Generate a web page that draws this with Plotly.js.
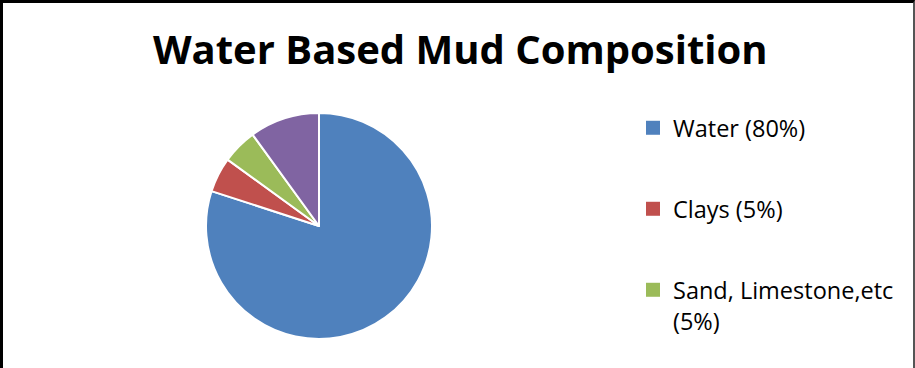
<!DOCTYPE html>
<html>
<head>
<meta charset="utf-8">
<script src="https://cdn.plot.ly/plotly-3.0.1.min.js"></script>
<style>
  html, body { margin: 0; padding: 0; background: #fff; }
  #wrap { position: relative; width: 915px; height: 368px; overflow: hidden; }
  #chart { width: 915px; height: 368px; }
  #frame { position: absolute; left: 0; top: 0; width: 910px; height: 400px;
           border-left: 3px solid #000; border-top: 3px solid #000; border-right: 2px solid #555;
           pointer-events: none; }
</style>
</head>
<body>
<div id="wrap">
  <div id="chart"></div>
  <div id="frame"></div>
</div>
<script>
const chartTitle = "Water Based Mud Composition";
const categories = ["Water", "Clays", "Sand, Limestone,etc", "Chemicals"];
const percentages = [80, 5, 5, 10];
const legendLabels = ["Water (80%)", "Clays (5%)", "Sand, Limestone,etc<br>(5%)", "Chemicals (10%)"];
const sliceColors = ["#4F81BD", "#C0504D", "#9BBB59", "#8064A2"];
// entries visible in the (cropped) legend of the reference
const shownInLegend = [true, true, true, false];

const W = 915, H = 368;
const LEG_FONT = 23.5;

const pie = {
  type: "pie",
  labels: categories,
  values: percentages,
  sort: false,
  direction: "clockwise",
  rotation: 0,
  textinfo: "none",
  showlegend: false,
  hovertemplate: "%{label}: %{value}%<extra></extra>",
  marker: { colors: sliceColors, line: { color: "#ffffff", width: 2 } },
  domain: { x: [206 / W, 432 / W], y: [(H - 339) / H, (H - 113) / H] }
};

// legend entries (one per category, spaced like the Excel legend)
const legendTraces = categories.map((c, i) => ({
  type: "scatter",
  mode: "markers",
  x: [null], y: [null],
  name: legendLabels[i],
  legendgroup: "g" + i,
  showlegend: shownInLegend[i],
  marker: { symbol: "square", size: 14, color: sliceColors[i], line: { width: 0 } },
  hoverinfo: "skip"
}));

const layout = {
  width: W,
  height: H,
  margin: { l: 0, r: 0, t: 0, b: 0 },
  paper_bgcolor: "#ffffff",
  plot_bgcolor: "rgba(0,0,0,0)",
  xaxis: { visible: false },
  yaxis: { visible: false },
  title: {
    text: "<b>" + chartTitle + "</b>",
    font: { family: "Open Sans, sans-serif", size: 40, color: "#000" },
    x: 0.503, xanchor: "center",
    y: 1 - 50 / H, yanchor: "middle"
  },
  showlegend: true,
  legend: {
    x: 633 / W, xanchor: "left",
    y: 1 - 106 / H, yanchor: "top",
    valign: "top",
    traceorder: "grouped",
    tracegroupgap: 81 - (LEG_FONT * 1.3 + 3),
    itemsizing: "trace",
    font: { family: "Open Sans, sans-serif", size: LEG_FONT, color: "#000" },
    bgcolor: "rgba(0,0,0,0)"
  }
};

Plotly.newPlot("chart", [pie].concat(legendTraces), layout, { displayModeBar: false, staticPlot: true });
</script>
</body>
</html>
